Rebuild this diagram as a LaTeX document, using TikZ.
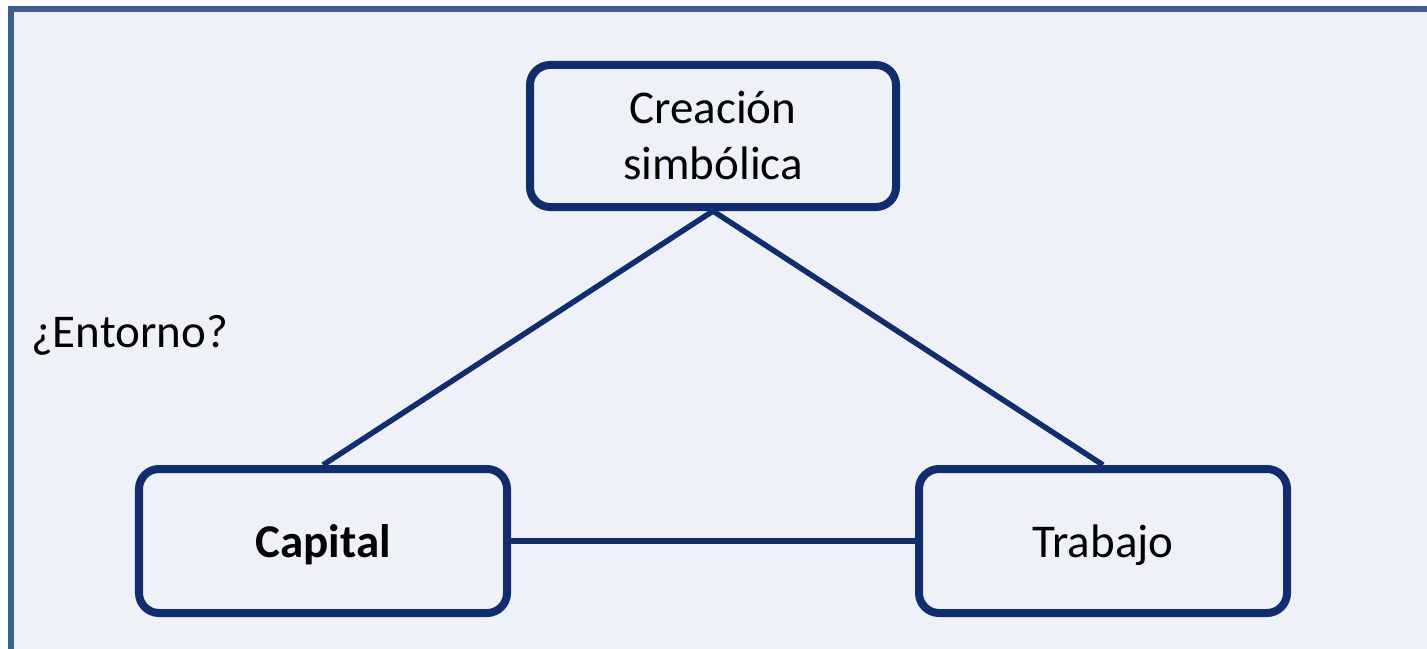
\documentclass[tikz,border=0pt]{standalone}
\usepackage{fontspec}
\setmainfont{Carlito}
\definecolor{navy}{HTML}{0F2D6F}
\definecolor{framecol}{HTML}{3B5F8E}
\definecolor{bgcol}{HTML}{EEF2F8}
\tikzset{
  box/.style={draw=navy, line width=8bp, rounded corners=20bp, fill=bgcol,
    inner sep=0pt, font=\fontsize{47bp}{56bp}\selectfont},
  onebox/.style={box, minimum width=368bp, minimum height=144bp, text height=32bp, text depth=0bp},
  link/.style={draw=navy, line width=5.5bp},
  lbl/.style={inner sep=0pt, font=\fontsize{47bp}{56bp}\selectfont, anchor=base west}
}
\begin{document}
\begin{tikzpicture}[x=1bp,y=-1bp]
\useasboundingbox (0,0) rectangle (1427,649);
\fill[bgcol] (8,7) rectangle (1427,649);
\begin{scope}
\clip (0,0) rectangle (1427,649);
\draw[framecol, line width=6bp] (10.5,680) -- (10.5,9.5) -- (1460,9.5);
\end{scope}
\node[box, align=center, minimum width=366bp, minimum height=142bp] (cs) at (713,136) {Creación\\simbólica};
\node[onebox] (cap) at (323,541) {\textbf{Capital}};
\node[onebox] (tra) at (1103,541) {Trabajo};
\node[lbl] (ent) at (31,347) {¿Entorno?};
\draw[link] (cs.south) -- (cap.north);
\draw[link] (cs.south) -- (tra.north);
\draw[link] (cap.east) -- (tra.west);
\end{tikzpicture}
\end{document}
